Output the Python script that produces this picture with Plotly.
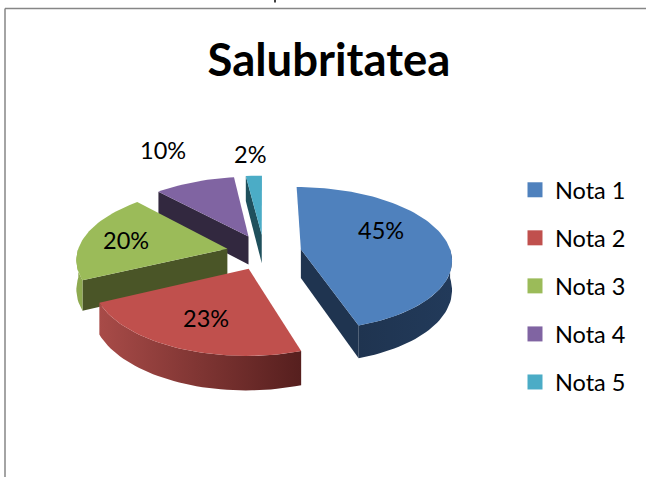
import math
import plotly.graph_objects as go

# --- data ---
categories = ["Nota 1", "Nota 2", "Nota 3", "Nota 4", "Nota 5"]
values = [45, 23, 20, 10, 2]
top_colors = ["#4F81BD", "#C0504D", "#9BBB59", "#8064A2", "#4BACC6"]
edge_colors = ["#1F3450", "#4A1F1E", "#4A5527", "#32283F", "#1F505C"]
rim_gradients = [
    ["#1F3450", "#223A5A"],
    ["#A84B48", "#561F1E"],
    ["#8EAA50", "#8EAA50"],
    ["#6A5288", "#6A5288"],
    ["#3B8DA3", "#3B8DA3"],
]
label_px = [(381, 230), (206, 318), (126, 240), (163, 150), (250, 154)]
draw_order = [4, 3, 2, 0, 1]

# --- projection of the tilted pie onto the page ---
CX, CY = 264, 252
R, RY = 150, 71
EXPLODE = 0.25
DEPTH = 29
K = 0.13


def frame(angle):
    rad = math.radians(angle)
    return math.sin(rad), -math.cos(rad)


def project(offset, u, v, drop=0.0):
    gu, gv = u + EXPLODE * offset[0], v + EXPLODE * offset[1]
    s = 1 / (1 - K * gv)
    return CX + gu * R * s, CY + gv * RY * s + drop * s


def arc(offset, a0, a1, drop=0.0):
    steps = max(2, int(abs(a1 - a0) / 2))
    return [
        project(offset, *frame(a0 + (a1 - a0) * i / steps), drop)
        for i in range(steps + 1)
    ]


def poly(points, **kw):
    xs = [p[0] for p in points] + [points[0][0]]
    ys = [p[1] for p in points] + [points[0][1]]
    return go.Scatter(
        x=xs, y=ys, mode="lines", fill="toself", line=dict(width=0),
        showlegend=False, hoverinfo="skip", **kw
    )


total = sum(values)
bounds = [0]
for val in values:
    bounds.append(bounds[-1] + val / total * 360)

fig = go.Figure()
for idx in draw_order:
    a0, a1 = bounds[idx], bounds[idx + 1]
    offset = frame((a0 + a1) / 2)
    centre_top = project(offset, 0, 0)
    centre_bot = project(offset, 0, 0, DEPTH)
    # straight cut faces that look towards the viewer
    for ang, visible in ((a0, math.sin(math.radians(a0)) < -1e-6),
                         (a1, math.sin(math.radians(a1)) > 1e-6)):
        if visible:
            p = project(offset, *frame(ang))
            q = project(offset, *frame(ang), DEPTH)
            fig.add_trace(poly([centre_top, p, q, centre_bot],
                               fillcolor=edge_colors[idx]))
    # outer rim, front half only
    lo, hi = max(a0, 90), min(a1, 270)
    if lo < hi:
        grad = rim_gradients[idx]
        pts = arc(offset, lo, hi) + arc(offset, hi, lo, DEPTH)
        fig.add_trace(poly(pts, fillcolor=grad[0], fillgradient=dict(
            type="horizontal", colorscale=[[0, grad[0]], [1, grad[1]]])))
    # top face
    fig.add_trace(poly([centre_top] + arc(offset, a0, a1),
                       fillcolor=top_colors[idx]))

# legend entries
for name, col in zip(categories, top_colors):
    fig.add_trace(go.Scatter(
        x=[None], y=[None], mode="markers", name=name, legendgroup=name,
        marker=dict(symbol="square", size=15, color=col),
    ))

# percentage labels
for val, (lx, ly) in zip(values, label_px):
    fig.add_annotation(x=lx, y=ly, xref="x", yref="y", text=f"{val}%",
                       showarrow=False, font=dict(size=23.5, color="#000000"))

fig.update_layout(
    width=646, height=477, margin=dict(l=0, r=0, t=0, b=0),
    paper_bgcolor="white", plot_bgcolor="white",
    font=dict(family="Lato, Carlito, sans-serif", color="#000000"),
    title=dict(text="<b>Salubritatea</b>", x=329 / 646, xanchor="center",
               y=1 - 60 / 477, yanchor="middle", font=dict(size=45.5)),
    xaxis=dict(range=[0, 646], visible=False, fixedrange=True),
    yaxis=dict(range=[477, 0], visible=False, fixedrange=True),
    legend=dict(x=515 / 646, xanchor="left", y=1 - 168 / 477, yanchor="top",
                font=dict(size=23.5), tracegroupgap=14.5, itemwidth=30,
                bgcolor="rgba(0,0,0,0)"),
    shapes=[
        dict(type="line", xref="x", yref="y", x0=5, y0=8.5, x1=646, y1=8.5,
             line=dict(color="#868686", width=1.5)),
        dict(type="line", xref="x", yref="y", x0=5, y0=8.5, x1=5, y1=477,
             line=dict(color="#868686", width=1.5)),
        dict(type="line", xref="x", yref="y", x0=275, y0=0, x1=275, y1=2.5,
             line=dict(color="#000000", width=1.5)),
    ],
)

fig.write_html("out.html", config={"displayModeBar": False},
               post_script="document.body.style.margin='0';")
